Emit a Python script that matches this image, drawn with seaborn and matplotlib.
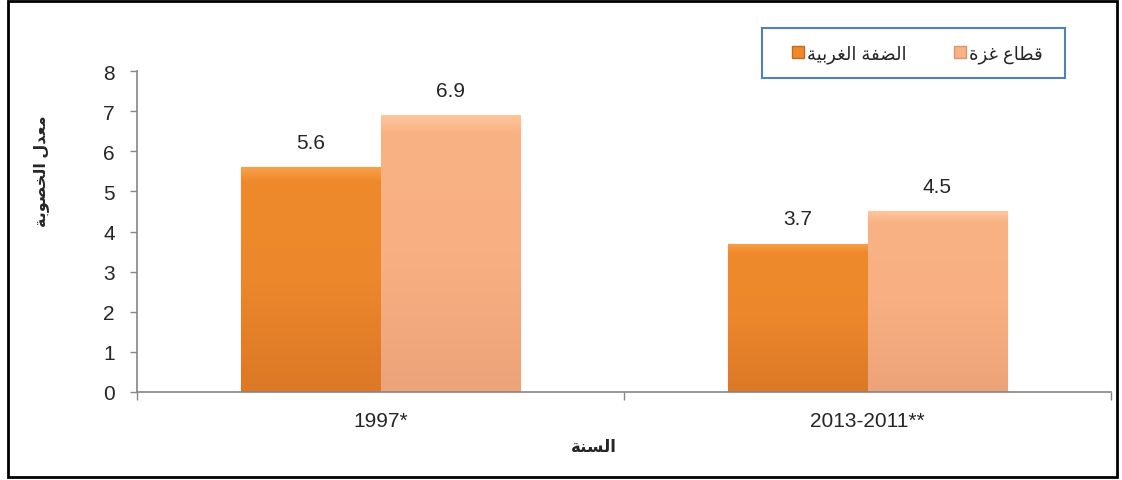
import numpy as np
import matplotlib
matplotlib.use("Agg")
import matplotlib.pyplot as plt
from matplotlib.colors import LinearSegmentedColormap
import pandas as pd
import seaborn as sns

# data
categories = ["1997*", "2013-2011**"]
series = ["الضفة الغربية", "قطاع غزة"]
west_bank = [5.6, 3.7]
gaza = [6.9, 4.5]
ylabel = "معدل الخصوبة"
xlabel = "السنة"
colors = ["#EF8A2C", "#F9B283"]
shades = [["#F7A04A", "#EF8A2C", "#EC872B", "#DC7826"],
          ["#FCC59D", "#F9B283", "#F8B082", "#EDA379"]]
edges = ["#C46A24", "#D99670"]

# matplotlib has no arabic shaping, so join letters by hand
FORMS = {  # isolated, final, initial, medial
    "ا": (0xFE8D, 0xFE8E, None, None), "ب": (0xFE8F, 0xFE90, 0xFE91, 0xFE92),
    "ة": (0xFE93, 0xFE94, None, None), "خ": (0xFEA5, 0xFEA6, 0xFEA7, 0xFEA8),
    "د": (0xFEA9, 0xFEAA, None, None), "ر": (0xFEAD, 0xFEAE, None, None),
    "ز": (0xFEAF, 0xFEB0, None, None), "س": (0xFEB1, 0xFEB2, 0xFEB3, 0xFEB4),
    "ص": (0xFEB9, 0xFEBA, 0xFEBB, 0xFEBC), "ض": (0xFEBD, 0xFEBE, 0xFEBF, 0xFEC0),
    "ط": (0xFEC1, 0xFEC2, 0xFEC3, 0xFEC4), "ع": (0xFEC9, 0xFECA, 0xFECB, 0xFECC),
    "غ": (0xFECD, 0xFECE, 0xFECF, 0xFED0), "ف": (0xFED1, 0xFED2, 0xFED3, 0xFED4),
    "ق": (0xFED5, 0xFED6, 0xFED7, 0xFED8), "ل": (0xFEDD, 0xFEDE, 0xFEDF, 0xFEE0),
    "م": (0xFEE1, 0xFEE2, 0xFEE3, 0xFEE4), "ن": (0xFEE5, 0xFEE6, 0xFEE7, 0xFEE8),
    "و": (0xFEED, 0xFEEE, None, None), "ي": (0xFEF1, 0xFEF2, 0xFEF3, 0xFEF4),
}

def shape(txt):
    out = []
    for i, c in enumerate(txt):
        if c not in FORMS:
            out.append(c)
            continue
        prev = txt[i-1] if i > 0 else ""
        nxt = txt[i+1] if i < len(txt)-1 else ""
        join_prev = prev in FORMS and FORMS[prev][2] is not None
        join_next = nxt in FORMS and FORMS[c][2] is not None
        f = FORMS[c]
        if join_prev and join_next:
            code = f[3]
        elif join_prev:
            code = f[1]
        elif join_next:
            code = f[2]
        else:
            code = f[0]
        out.append(chr(code))
    return "".join(out)[::-1]

df = pd.DataFrame({
    "cat": categories * 2,
    "series": [series[0]] * 2 + [series[1]] * 2,
    "val": west_bank + gaza,
})

sns.set_style("white")
plt.rcParams["font.family"] = ["Liberation Sans", "DejaVu Sans"]

fig = plt.figure(figsize=(11.22, 4.81), dpi=100)
ax = fig.add_axes([137/1122, 1-393/481, 974/1122, 321/481])
sns.barplot(data=df, x="cat", y="val", hue="series", palette=colors,
            width=0.571, ax=ax, saturation=1, gap=0)

# shaded fill like the office chart
for cont, sh, ec in zip(ax.containers, shades, edges):
    cmap = LinearSegmentedColormap.from_list("g", list(zip([0, 0.06, 0.5, 1], sh)))
    for b in cont:
        x0, y0 = b.get_x(), b.get_y()
        w, h = b.get_width(), b.get_height()
        grad = np.linspace(0, 1, 200).reshape(-1, 1)
        im = ax.imshow(grad, cmap=cmap, aspect="auto", origin="upper",
                       extent=(x0, x0 + w, y0, y0 + h), zorder=b.get_zorder())
        im.set_clip_path(b)
        b.set_edgecolor(ec)
        b.set_linewidth(0.8)
    ax.bar_label(cont, fmt="%.1f", padding=11, fontsize=15)

ax.set_ylim(0, 8)
ax.set_xlim(-0.5, 1.5)
ax.set_yticks(range(9))
ax.tick_params(axis="y", labelsize=15, length=5, width=1, color="#868686",
               left=True, pad=11)
ax.tick_params(axis="x", which="major", labelsize=15, length=0, pad=14)
ax.set_xticks([-0.5, 0.5, 1.5], minor=True)
ax.tick_params(axis="x", which="minor", length=6, width=1, color="#868686",
               bottom=True)
for s in ["top", "right"]:
    ax.spines[s].set_visible(False)
for s in ["left", "bottom"]:
    ax.spines[s].set_color("#868686")
    ax.spines[s].set_linewidth(1.2)

ax.set_xlabel(shape(xlabel), fontsize=12, fontweight="bold")
ax.set_ylabel(shape(ylabel), fontsize=11.5, fontweight="bold")
ax.xaxis.set_label_coords(0.469, -0.145)
ax.yaxis.set_label_coords(-0.09, 0.69)

handles, labels = ax.get_legend_handles_labels()
leg = ax.legend(handles, [shape(l) for l in labels], ncol=2, loc="center left",
                bbox_to_anchor=(792/1122, 1-55/481), bbox_transform=fig.transFigure,
                fontsize=13, frameon=False, borderpad=0, borderaxespad=0,
                handlelength=0.65, handleheight=0.65,
                handletextpad=0.2, columnspacing=2.6)
for h, ec in zip(leg.legend_handles, edges):
    h.set_edgecolor(ec)

# legend frame
fig.add_artist(plt.Rectangle((762/1122, 1-79/481), 303/1122, 50/481,
                             transform=fig.transFigure, fill=False,
                             edgecolor="#4F81BD", linewidth=1.5))
# outer chart border
fig.add_artist(plt.Rectangle((8/1122, 3/481), 1109/1122, 476/481,
                             transform=fig.transFigure, fill=False,
                             edgecolor="black", linewidth=2))

fig.savefig("out.png", dpi=100)
